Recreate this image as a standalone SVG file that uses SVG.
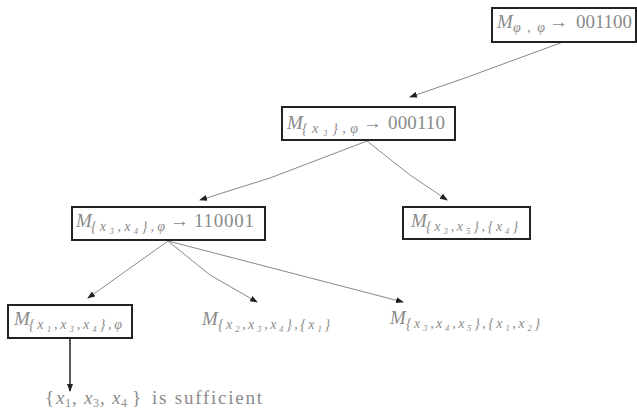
<svg xmlns="http://www.w3.org/2000/svg" width="637" height="412" viewBox="0 0 637 412">
<style>
.box{fill:#fff;stroke:#222;stroke-width:2}
.t{font-family:"Liberation Serif","DejaVu Serif",serif;font-size:19px;fill:#8a8a8a}
.m{font-style:italic}
.s{font-size:14px;font-style:italic}
.c{fill:none;stroke:#888;stroke-width:1}
</style>
<defs>
<marker id="ah" markerWidth="8" markerHeight="6" refX="7" refY="3" orient="auto" markerUnits="userSpaceOnUse">
<path d="M0,0 L8,3 L0,6 z" fill="#222"/>
</marker>
</defs>
<rect width="637" height="412" fill="#fff"/>
<g id="connectors">
<path class="c" d="M563,42 L465,78 L410,97" marker-end="url(#ah)"/>
<path class="c" d="M367,141 L270,178 L200,200" marker-end="url(#ah)"/>
<path class="c" d="M367,141 L410,175 L447,200" marker-end="url(#ah)"/>
<path class="c" d="M168,241 L88,298" marker-end="url(#ah)"/>
<path class="c" d="M168,241 L210,275 L257,302" marker-end="url(#ah)"/>
<path class="c" d="M168,241 L403,302" marker-end="url(#ah)"/>
<path d="M70,339 L70,391" stroke="#222" stroke-width="1.5" fill="none" marker-end="url(#ah)"/>
</g>
<g id="n1">
<rect class="box" x="492" y="8" width="144" height="34"/>
<text class="t" y="28"><tspan class="m" x="497">M</tspan><tspan class="s" x="513" dy="4" textLength="32" lengthAdjust="spacing">φ,φ</tspan><tspan x="549" dy="-4">→</tspan><tspan x="576" textLength="56" lengthAdjust="spacing">001100</tspan></text>
</g>
<g id="n2">
<rect class="box" x="282" y="107" width="173" height="33"/>
<text class="t" y="129"><tspan class="m" x="287">M</tspan><tspan class="s" x="302" dy="4" textLength="56" lengthAdjust="spacing">{x₃},φ</tspan><tspan x="363" dy="-4">→</tspan><tspan x="388" textLength="57" lengthAdjust="spacing">000110</tspan></text>
</g>
<g id="n3">
<rect class="box" x="72" y="207" width="193" height="33"/>
<text class="t" y="227"><tspan class="m" x="76">M</tspan><tspan class="s" x="91" dy="4" textLength="74" lengthAdjust="spacing">{x₃,x₄},φ</tspan><tspan x="170" dy="-4">→</tspan><tspan x="194" textLength="60" lengthAdjust="spacing">110001</tspan></text>
</g>
<g id="n4">
<rect class="box" x="403" y="207" width="127" height="32"/>
<text class="t" y="227"><tspan class="m" x="411">M</tspan><tspan class="s" x="426" dy="4" textLength="92" lengthAdjust="spacing">{x₃,x₅},{x₄}</tspan></text>
</g>
<g id="n5">
<rect class="box" x="8" y="305" width="124" height="33"/>
<text class="t" y="325"><tspan class="m" x="14">M</tspan><tspan class="s" x="29" dy="4" textLength="93" lengthAdjust="spacing">{x₁,x₃,x₄},φ</tspan></text>
</g>
<g id="n6">
<text class="t" y="325"><tspan class="m" x="202">M</tspan><tspan class="s" x="218" dy="4" textLength="112" lengthAdjust="spacing">{x₂,x₃,x₄},{x₁}</tspan></text>
</g>
<g id="n7">
<text class="t" y="324"><tspan class="m" x="390">M</tspan><tspan class="s" x="406" dy="4" textLength="134" lengthAdjust="spacing">{x₃,x₄,x₅},{x₁,x₂}</tspan></text>
</g>
<g id="n8">
<text class="t" y="404"><tspan x="45">{</tspan><tspan class="m" x="56">x</tspan><tspan font-size="12" x="65" dy="3">1</tspan><tspan x="72" dy="-3">,</tspan><tspan class="m" x="84">x</tspan><tspan font-size="12" x="93" dy="3">3</tspan><tspan x="100" dy="-3">,</tspan><tspan class="m" x="112">x</tspan><tspan font-size="12" x="121" dy="3">4</tspan><tspan x="132" dy="-3">}</tspan><tspan x="152" textLength="110" lengthAdjust="spacing">is sufficient</tspan></text>
</g>
</svg>
